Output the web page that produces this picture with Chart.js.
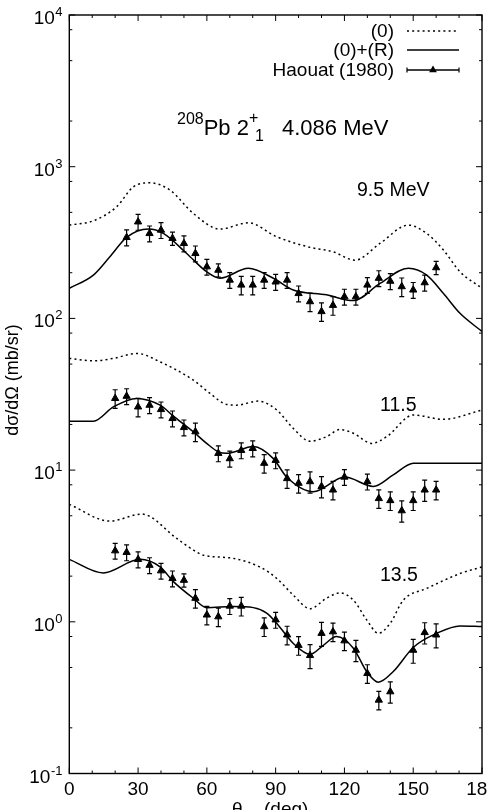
<!DOCTYPE html>
<html>
<head>
<meta charset="utf-8">
<script src="https://cdn.jsdelivr.net/npm/chart.js@4/dist/chart.umd.min.js"></script>
<style>
  body { margin: 0; background: #fff; }
  canvas { display: block; }
</style>
</head>
<body>
<canvas id="chart" width="488" height="810"></canvas>
<script>
// measured angles (deg) and cross sections (mb/sr), Haouat (1980)
const angles95 = [25, 30, 35, 40, 45, 50, 55, 60, 65, 70, 75, 80, 85, 90, 95, 100, 105, 110, 115, 120, 125, 130, 135, 140, 145, 150, 155, 160];
const data95 = [342, 433, 363, 382, 337, 312, 268, 219, 208, 179, 166, 166, 179, 174, 179, 146, 129, 111, 122, 139, 139, 166, 184, 176, 162, 154, 172, 216];
const err95 = [12, 12, 12, 12, 10, 12, 12, 12, 10, 12, 14, 14, 12, 12, 12, 12, 14, 14, 14, 12, 12, 12, 12, 12, 14, 12, 12, 10];

const angles115 = [20, 25, 30, 35, 40, 45, 50, 55, 65, 70, 75, 80, 85, 90, 95, 100, 105, 110, 115, 120, 130, 135, 140, 145, 150, 155, 160];
const data115 = [29.7, 30.7, 26.1, 26.8, 25.1, 21.9, 19.1, 17.9, 12.9, 11.9, 13.5, 13.9, 11.1, 11.6, 8.8, 8.2, 8.4, 7.8, 7.4, 9.0, 8.4, 6.5, 6.3, 5.4, 6.3, 7.4, 7.4];
const err115 = [14, 12, 14, 12, 12, 12, 12, 14, 12, 12, 12, 12, 14, 12, 14, 14, 16, 16, 14, 12, 12, 14, 14, 16, 14, 16, 14];

const angles135 = [20, 25, 30, 35, 40, 45, 50, 55, 60, 65, 70, 75, 85, 90, 95, 100, 105, 110, 115, 120, 125, 130, 135, 140, 150, 155, 160];
const data135 = [2.94, 2.87, 2.58, 2.36, 2.17, 1.93, 1.88, 1.43, 1.11, 1.08, 1.27, 1.27, 0.93, 1.03, 0.82, 0.70, 0.60, 0.84, 0.86, 0.75, 0.65, 0.457, 0.305, 0.346, 0.65, 0.85, 0.82];
const err135 = [12, 12, 12, 12, 12, 12, 10, 14, 14, 14, 12, 14, 14, 12, 14, 14, 18, 18, 14, 14, 16, 14, 14, 16, 18, 16, 18];

// calculation (0), dotted
const thetaZero95 = [0, 10.5, 20.7, 27.9, 35.2, 43.9, 54.1, 65.7, 78.1, 90.5, 105, 115, 124.6, 135.5, 147.9, 155.9, 163.2, 170.4, 180];
const zero95 = [412, 440, 545, 736, 783, 701, 492, 388, 427, 345, 294, 275, 242, 312, 412, 363, 282, 203, 158];
const thetaZero115 = [0, 10.5, 19.2, 29.4, 39.6, 54.1, 61.4, 68.6, 73, 82.4, 90.5, 97.7, 105, 112.2, 118, 123.9, 131.9, 138.4, 150.1, 163.2, 180];
const zero115 = [54.5, 52.5, 54.5, 58.8, 51.7, 39.2, 32.0, 27.1, 26.8, 28.5, 24.9, 18.8, 15.5, 16.6, 18.5, 17.5, 15.0, 16.6, 23.1, 21.6, 24.9];
const thetaZero135 = [0, 17.7, 31.6, 46.8, 54.1, 58.5, 71.5, 83.1, 90.5, 97.7, 105, 112.2, 118, 123.9, 129.7, 134.8, 139.9, 145.7, 155.9, 170.4, 180];
const zero135 = [5.94, 4.61, 5.13, 3.55, 2.97, 2.75, 2.62, 2.30, 1.93, 1.50, 1.22, 1.43, 1.55, 1.39, 1.03, 0.84, 0.975, 1.39, 1.66, 2.08, 2.30];

// calculation (0)+(R), solid
const thetaFull95 = [0, 10.5, 17.7, 25, 34.5, 41, 51.2, 59.9, 65.7, 78.1, 89, 97.7, 112.2, 123.9, 135.5, 147.9, 155.9, 163.2, 170.4, 180];
const full95 = [158, 193, 255, 342, 388, 363, 268, 203, 184, 214, 184, 154, 143, 131, 170, 214, 193, 146, 108, 82];
const thetaFull115 = [0, 10.5, 19.2, 29.4, 39.6, 45.4, 54.1, 59.9, 65, 68.6, 80.3, 89, 94.8, 106.4, 120.2, 132.6, 141.3, 150.1, 180];
const full115 = [21.0, 21.0, 26.1, 29.7, 26.8, 22.7, 17.9, 15.0, 13.2, 12.9, 14.3, 11.9, 9.0, 7.2, 9.0, 7.8, 9.3, 11.1, 11.1];
const thetaFull135 = [0, 14.8, 30.8, 39.6, 45.4, 54.1, 59.9, 71.5, 80.3, 86.1, 90.5, 97.7, 105, 110.8, 116.6, 123.9, 129.7, 134.8, 141.3, 150.1, 160.3, 170.4, 180];
const full135 = [2.58, 2.10, 2.58, 2.30, 1.84, 1.43, 1.24, 1.26, 1.24, 1.14, 0.975, 0.72, 0.61, 0.70, 0.80, 0.67, 0.47, 0.40, 0.47, 0.68, 0.84, 0.94, 0.93];

const xTicks = [0, 30, 60, 90, 120, 150, 180];
const yDecades = [-1, 0, 1, 2, 3, 4];
const energyLabels = ["9.5 MeV", "11.5", "13.5"];

const FONT = "'Liberation Sans', Arial, Helvetica, sans-serif";

function pairs(xs, ys) {
  return xs.map((x, i) => ({ x: x, y: ys[i] }));
}

function curve(label, xs, ys, dotted) {
  return {
    label: label,
    data: pairs(xs, ys),
    borderColor: "#000",
    borderWidth: 1.5,
    borderDash: dotted ? [2, 3.2] : [],
    pointRadius: 0,
    fill: false,
    cubicInterpolationMode: "monotone",
  };
}

function measured(xs, ys, errs) {
  return {
    label: "Haouat (1980)",
    data: pairs(xs, ys),
    errors: errs,
    showLine: false,
    pointStyle: "triangle",
    pointRadius: 4.2,
    backgroundColor: "#000",
    borderColor: "#000",
    borderWidth: 1,
  };
}

function text(ctx, str, x, y, size, align) {
  ctx.font = size + "px " + FONT;
  ctx.textAlign = align || "left";
  ctx.textBaseline = "alphabetic";
  ctx.fillText(str, x, y);
  return ctx.measureText(str).width;
}

function triangle(ctx, x, y, r) {
  ctx.beginPath();
  ctx.moveTo(x, y - r);
  ctx.lineTo(x + r * 0.866, y + r * 0.5);
  ctx.lineTo(x - r * 0.866, y + r * 0.5);
  ctx.closePath();
  ctx.fill();
}

// error bars drawn through the scales
const errorBars = {
  id: "errorBars",
  afterDatasetsDraw(chart) {
    const ctx = chart.ctx;
    const ys = chart.scales.y;
    ctx.save();
    ctx.strokeStyle = "#000";
    ctx.lineWidth = 1.2;
    chart.data.datasets.forEach((ds, i) => {
      if (!ds.errors) return;
      chart.getDatasetMeta(i).data.forEach((pt, j) => {
        const v = ds.data[j].y;
        const e = ds.errors[j] / 100;
        const top = ys.getPixelForValue(v * (1 + e));
        const bot = ys.getPixelForValue(v * (1 - e));
        ctx.beginPath();
        ctx.moveTo(pt.x, top);
        ctx.lineTo(pt.x, bot);
        ctx.moveTo(pt.x - 2.5, top);
        ctx.lineTo(pt.x + 2.5, top);
        ctx.moveTo(pt.x - 2.5, bot);
        ctx.lineTo(pt.x + 2.5, bot);
        ctx.stroke();
      });
    });
    ctx.restore();
  },
};

// gnuplot-like frame, inward ticks, labels, key
const decorations = {
  id: "decorations",
  afterDraw(chart) {
    const ctx = chart.ctx;
    const a = chart.chartArea;
    const xs = chart.scales.x;
    const ys = chart.scales.y;
    ctx.save();
    ctx.strokeStyle = "#000";
    ctx.fillStyle = "#000";
    ctx.lineWidth = 1.4;
    ctx.strokeRect(a.left, a.top, a.right - a.left, a.bottom - a.top);

    ctx.lineWidth = 1;
    ctx.beginPath();
    for (let t = 0; t <= 180; t += 10) {
      const px = xs.getPixelForValue(t);
      const len = t % 30 === 0 ? 6 : 3;
      ctx.moveTo(px, a.bottom);
      ctx.lineTo(px, a.bottom - len);
      ctx.moveTo(px, a.top);
      ctx.lineTo(px, a.top + len);
    }
    yDecades.forEach((d) => {
      [1, 2, 5, 8].forEach((m) => {
        const v = m * Math.pow(10, d);
        if (v > 10000) return;
        const py = ys.getPixelForValue(v);
        const len = m === 1 ? 6 : 3;
        ctx.moveTo(a.left, py);
        ctx.lineTo(a.left + len, py);
        ctx.moveTo(a.right, py);
        ctx.lineTo(a.right - len, py);
      });
    });
    ctx.stroke();

    // y tick labels 10^n
    yDecades.forEach((d) => {
      const py = ys.getPixelForValue(Math.pow(10, d));
      const exp = String(d);
      ctx.font = "13px " + FONT;
      const ew = ctx.measureText(exp).width;
      const bx = 62 - ew;
      text(ctx, "10", bx, py + 9, 19, "right");
      text(ctx, exp, bx + 0.5, py + 1, 13, "left");
    });

    // axis titles
    ctx.save();
    ctx.translate(12, 380);
    ctx.rotate(-Math.PI / 2);
    text(ctx, "dσ/dΩ (mb/sr)", 0, 6, 18, "center");
    ctx.restore();
    let x = 232;
    x += text(ctx, "θ", x, 815, 19);
    text(ctx, "cm", x, 821, 13);
    text(ctx, "(deg)", 264, 815, 19);

    // title
    x = 177;
    x += text(ctx, "208", x, 124, 16);
    x += text(ctx, "Pb 2", x, 135, 22);
    text(ctx, "+", x, 123, 16);
    text(ctx, "1", x + 6, 141, 16);
    text(ctx, "4.086 MeV", 282, 135, 22);

    // energies
    text(ctx, energyLabels[0], 357, 196, 19.5);
    text(ctx, energyLabels[1], 380, 411, 19.5);
    text(ctx, energyLabels[2], 380, 581, 19.5);

    // key
    const rows = [
      { label: "(0)", y: 31, dash: [2, 3.2] },
      { label: "(0)+(R)", y: 50, dash: [] },
      { label: "Haouat (1980)", y: 70, dash: [], pts: true },
    ];
    rows.forEach((r) => {
      text(ctx, r.label, 394, r.y + 6, 19, "right");
      ctx.lineWidth = 1.5;
      ctx.setLineDash(r.dash);
      ctx.beginPath();
      ctx.moveTo(407, r.y);
      ctx.lineTo(459, r.y);
      ctx.stroke();
      ctx.setLineDash([]);
      if (r.pts) {
        ctx.lineWidth = 1.2;
        ctx.beginPath();
        ctx.moveTo(407, r.y - 2.5);
        ctx.lineTo(407, r.y + 2.5);
        ctx.moveTo(459, r.y - 2.5);
        ctx.lineTo(459, r.y + 2.5);
        ctx.stroke();
        triangle(ctx, 433, r.y, 4.5);
      }
    });
    ctx.restore();
  },
};

new Chart(document.getElementById("chart"), {
  type: "line",
  data: {
    datasets: [
      curve("(0)", thetaZero95, zero95, true),
      curve("(0)", thetaZero115, zero115, true),
      curve("(0)", thetaZero135, zero135, true),
      curve("(0)+(R)", thetaFull95, full95, false),
      curve("(0)+(R)", thetaFull115, full115, false),
      curve("(0)+(R)", thetaFull135, full135, false),
      measured(angles95, data95, err95),
      measured(angles115, data115, err115),
      measured(angles135, data135, err135),
    ],
  },
  options: {
    responsive: false,
    animation: false,
    layout: { padding: { top: 15, right: 6, left: 0, bottom: 0 } },
    plugins: {
      legend: { display: false },
      tooltip: { enabled: false },
    },
    scales: {
      x: {
        type: "linear",
        min: 0,
        max: 180,
        afterBuildTicks: (s) => {
          s.ticks = xTicks.map((v) => ({ value: v }));
        },
        ticks: {
          color: "#000",
          font: { size: 19, family: FONT },
          padding: -3,
          maxRotation: 0,
          autoSkip: false,
        },
        grid: { display: false },
        border: { display: false },
        afterFit: (s) => {
          s.height = 36.5;
          s.paddingLeft = 0;
          s.paddingRight = 0;
        },
      },
      y: {
        type: "logarithmic",
        min: 0.1,
        max: 10000,
        ticks: { display: false },
        grid: { display: false },
        border: { display: false },
        afterFit: (s) => {
          s.width = 69.3;
          s.paddingTop = 0;
          s.paddingBottom = 0;
        },
      },
    },
  },
  plugins: [errorBars, decorations],
});
</script>
</body>
</html>
